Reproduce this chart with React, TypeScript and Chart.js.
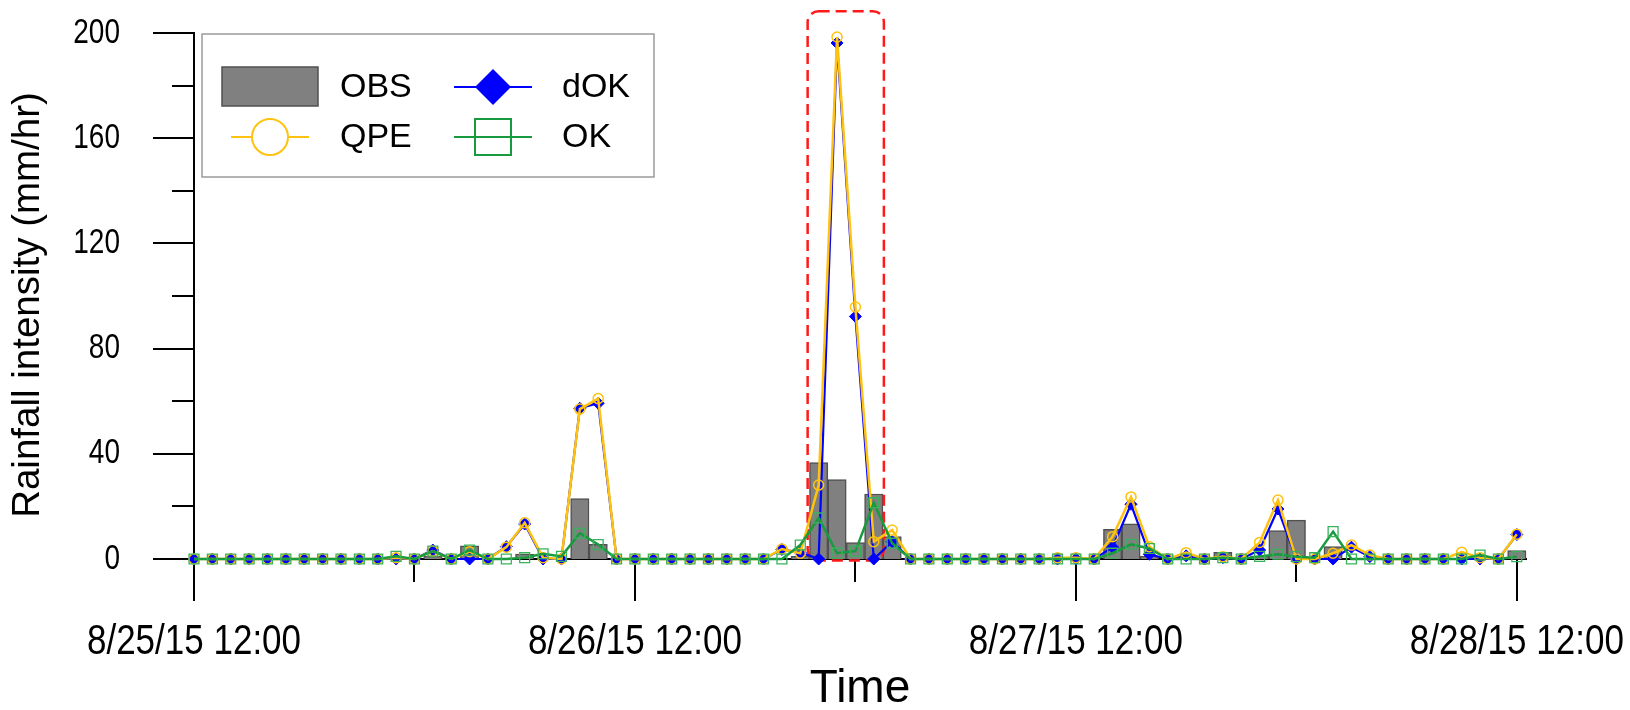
import { useEffect, useRef } from "react";
import { Chart, registerables } from "chart.js";

Chart.register(...registerables);

// Hours since 8/25/15 12:00 (hourly observations)
const HOURS = [
  0, 1, 2, 3, 4, 5, 6, 7, 8, 9, 10, 11, 12, 13, 14, 15, 16, 17, 18, 19, 20, 21, 22, 23, 24,
  25, 26, 27, 28, 29, 30, 31, 32, 33, 34, 35, 36, 37, 38, 39, 40, 41, 42, 43, 44, 45, 46, 47, 48,
  49, 50, 51, 52, 53, 54, 55, 56, 57, 58, 59, 60, 61, 62, 63, 64, 65, 66, 67, 68, 69, 70, 71, 72,
];

const OBS = [
  0, 0, 0, 0, 0, 0, 0, 0, 0, 0, 0, 0, 0, 1, 0, 5, 0, 0, 1.9, 0, 0, 23, 5.6, 0, 0,
  0, 0, 0, 0, 0, 0, 0, 0, 1, 36.7, 30.2, 6.2, 24.7, 8.5, 0, 0, 0, 0, 0, 0, 0, 0, 0, 0,
  0, 11.3, 13.4, 1, 0, 0, 0, 2.5, 0, 1.2, 10.8, 14.8, 0, 4.7, 0, 0, 0, 0, 0, 0, 0, 0, 0, 3.2,
];

const QPE = [
  0, 0, 0, 0, 0, 0, 0, 0, 0, 0, 0, 0.5, 0, 3, 0, 2.8, 0, 4.5, 13.8, 0.5, 0, 57, 61, 0, 0,
  0, 0, 0, 0, 0, 0, 0, 3.8, 2.2, 28.1, 198.5, 95.8, 6.6, 11, 0, 0, 0, 0, 0, 0, 0, 0, 0.5, 0.5,
  0, 8.5, 23.6, 4.7, 0, 2.4, 0, 0.9, 0, 6.3, 22.4, 0, 0, 2.2, 5.3, 1.5, 0, 0, 0, 0, 2.6, 0.5, 0, 9.4,
];

const DOK = [
  0, 0, 0, 0, 0, 0, 0, 0, 0, 0, 0, 0, 0, 3.4, 0, 0, 0, 4.7, 13.3, 0, 0, 57.3, 59.2, 0, 0,
  0, 0, 0, 0, 0, 0, 0, 3.6, 2.5, 0, 196.2, 92.2, 0, 6.6, 0, 0, 0, 0, 0, 0, 0, 0, 0, 0,
  0, 4.5, 20.8, 1.8, 0, 1.2, 0, 0.5, 0, 3.4, 19, 0, 0, 0, 4.5, 0.9, 0, 0, 0, 0, 0, 0, 0, 9.3,
];

const OK = [
  0, 0, 0, 0, 0, 0, 0, 0, 0, 0, 0, 1, 0, 3, 0, 3.4, 0, 0, 0.5, 2, 1, 9.8, 5.5, 0, 0,
  0, 0, 0, 0, 0, 0, 0, 0, 5.3, 15.6, 2.2, 3, 21.4, 6, 0, 0, 0, 0, 0, 0, 0, 0, 0, 0,
  0, 2.2, 5.6, 4, 0, 0, 0, 0.5, 0, 1, 1.8, 0.9, 0.5, 10.4, 0, 0, 0, 0, 0, 0, 0, 1.5, 0, 0.9,
];

const X_MAJOR_HOURS = [0, 24, 48, 72];
const X_MINOR_HOURS = [12, 36, 60];
const X_TICK_LABELS = ["8/25/15 12:00", "8/26/15 12:00", "8/27/15 12:00", "8/28/15 12:00"];
const Y_TICKS = [0, 20, 40, 60, 80, 100, 120, 140, 160, 180, 200];
const Y_LABEL_STEP = 40;

// highlighted event window (hours, mm/hr)
const HIGHLIGHT_X = [33.4, 37.55];
const HIGHLIGHT_Y = [-0.6, 208.3];

const FONT = "'Liberation Sans', Arial, sans-serif";

// draw a scale's tick labels slightly taller (the source figure's text is vertically stretched)
function patchScale(scale: any, labelStretch: number, titleShiftY: number) {
  if (scale.$patched) return;
  scale.$patched = true;
  const origLabels = scale.drawLabels;
  scale.drawLabels = function (area: any) {
    const ctx = this.ctx;
    const f = ctx.fillText;
    ctx.fillText = function (t: string, x: number, y: number, mw?: number) {
      this.save();
      this.translate(x, y);
      this.scale(1, labelStretch);
      if (mw === undefined) f.call(this, t, 0, 0);
      else f.call(this, t, 0, 0, mw);
      this.restore();
    };
    try {
      origLabels.call(this, area);
    } finally {
      ctx.fillText = f;
    }
  };
  const origTitle = scale.drawTitle;
  scale.drawTitle = function () {
    this.ctx.save();
    this.ctx.translate(0, titleShiftY);
    origTitle.call(this);
    this.ctx.restore();
  };
}

const tickPlugin = {
  id: "axisTicks",
  beforeDatasetsDraw(chart: any) {
    const { ctx, scales } = chart;
    const x = scales.x;
    const y = scales.y;
    const y0 = y.getPixelForValue(0);
    ctx.save();
    ctx.strokeStyle = "#000";
    ctx.lineWidth = 2;
    ctx.beginPath();
    X_MAJOR_HOURS.forEach((h) => {
      const px = Math.round(x.getPixelForValue(h));
      ctx.moveTo(px, y0);
      ctx.lineTo(px, y0 + 42);
    });
    X_MINOR_HOURS.forEach((h) => {
      const px = Math.round(x.getPixelForValue(h));
      ctx.moveTo(px, y0);
      ctx.lineTo(px, y0 + 23);
    });
    Y_TICKS.forEach((v) => {
      const py = Math.round(y.getPixelForValue(v));
      const len = v % Y_LABEL_STEP === 0 ? 41 : 22;
      ctx.moveTo(x.left - len, py);
      ctx.lineTo(x.left, py);
    });
    ctx.stroke();
    ctx.restore();
  },
};

const highlightPlugin = {
  id: "highlightBox",
  afterDatasetDraw(chart: any, args: any) {
    if (chart.data.datasets[args.index].label !== "OBS") return;
    const { ctx, scales } = chart;
    const l = scales.x.getPixelForValue(HIGHLIGHT_X[0]);
    const r = scales.x.getPixelForValue(HIGHLIGHT_X[1]);
    const b = scales.y.getPixelForValue(HIGHLIGHT_Y[0]);
    const t = scales.y.getPixelForValue(HIGHLIGHT_Y[1]);
    ctx.save();
    ctx.strokeStyle = "#FF1A1A";
    ctx.lineWidth = 2.5;
    ctx.setLineDash([11, 6]);
    ctx.beginPath();
    (ctx as any).roundRect(l, t, r - l, b - t, 11);
    ctx.stroke();
    ctx.restore();
  },
};

const legendPlugin = {
  id: "boxLegend",
  afterDraw(chart: any) {
    const ctx = chart.ctx;
    const ds = chart.data.datasets;
    const find = (l: string) => ds.find((d: any) => d.label === l);
    ctx.save();
    ctx.strokeStyle = "#9a9a9a";
    ctx.lineWidth = 1.5;
    ctx.fillStyle = "#fff";
    ctx.beginPath();
    ctx.rect(202, 34, 452, 143);
    ctx.fill();
    ctx.stroke();

    const rows = [87, 137];
    const symX = [270, 493];
    const textX = [340, 562];
    const items = [
      { label: "OBS", col: 0, row: 0 },
      { label: "dOK", col: 1, row: 0 },
      { label: "QPE", col: 0, row: 1 },
      { label: "OK", col: 1, row: 1 },
    ];
    items.forEach((it) => {
      const d = find(it.label);
      const cx = symX[it.col];
      const cy = rows[it.row];
      ctx.setLineDash([]);
      if (d.type === "line") {
        ctx.strokeStyle = d.borderColor;
        ctx.lineWidth = 1.8;
        ctx.beginPath();
        ctx.moveTo(cx - 39, cy);
        ctx.lineTo(cx + 39, cy);
        ctx.stroke();
        ctx.beginPath();
        if (d.pointStyle === "rectRot") {
          ctx.moveTo(cx, cy - 18);
          ctx.lineTo(cx + 18, cy);
          ctx.lineTo(cx, cy + 18);
          ctx.lineTo(cx - 18, cy);
          ctx.closePath();
          ctx.fillStyle = d.pointBackgroundColor;
          ctx.fill();
        } else if (d.pointStyle === "circle") {
          ctx.arc(cx, cy, 18, 0, Math.PI * 2);
          ctx.fillStyle = "#fff";
          ctx.fill();
          ctx.lineWidth = 2;
          ctx.stroke();
        } else {
          ctx.rect(cx - 18, cy - 18, 36, 36);
          ctx.fillStyle = "#fff";
          ctx.fill();
          ctx.lineWidth = 2;
          ctx.stroke();
          ctx.beginPath();
          ctx.lineWidth = 1.8;
          ctx.moveTo(cx - 18, cy);
          ctx.lineTo(cx + 18, cy);
          ctx.stroke();
        }
      } else {
        ctx.fillStyle = d.backgroundColor;
        ctx.strokeStyle = d.borderColor;
        ctx.lineWidth = 1.5;
        ctx.beginPath();
        ctx.rect(cx - 48, cy - 20, 96, 39);
        ctx.fill();
        ctx.stroke();
      }
      ctx.fillStyle = "#000";
      ctx.font = `34px ${FONT}`;
      ctx.textAlign = "left";
      ctx.textBaseline = "middle";
      ctx.fillText(it.label, textX[it.col], cy + 1);
    });
    ctx.restore();
  },
};

export default function App() {
  const ref = useRef<HTMLCanvasElement | null>(null);

  useEffect(() => {
    if (!ref.current) return;
    const chart = new Chart(ref.current, {
      type: "bar",
      data: {
        labels: HOURS,
        datasets: [
          {
            type: "line",
            label: "OK",
            data: OK,
            borderColor: "#179B3E",
            backgroundColor: "#179B3E",
            pointBackgroundColor: "rgba(255,255,255,0)",
            pointBorderColor: "#38B25A",
            pointStyle: "rect",
            pointRadius: 7,
            pointBorderWidth: 1.3,
            borderWidth: 2.5,
            order: 1,
            clip: false,
          } as any,
          {
            type: "line",
            label: "QPE",
            data: QPE,
            borderColor: "#FFC20E",
            backgroundColor: "#FFC20E",
            pointBackgroundColor: "rgba(255,255,255,0)",
            pointBorderColor: "#FFC20E",
            pointStyle: "circle",
            pointRadius: 5,
            pointBorderWidth: 1.5,
            borderWidth: 2.5,
            order: 2,
            clip: false,
          },
          {
            type: "line",
            label: "dOK",
            data: DOK,
            borderColor: "#0000FF",
            backgroundColor: "#0000FF",
            pointBackgroundColor: "#0000FF",
            pointBorderColor: "#0000FF",
            pointStyle: "rectRot",
            pointRadius: 6,
            pointBorderWidth: 1,
            borderWidth: 2.2,
            order: 3,
            clip: false,
          },
          {
            type: "bar",
            label: "OBS",
            data: OBS,
            backgroundColor: "#808080",
            borderColor: "#505050",
            borderWidth: 1.5,
            barPercentage: 1,
            categoryPercentage: 1,
            order: 4,
            clip: false,
          } as any,
        ],
      },
      options: {
        animation: false,
        responsive: true,
        maintainAspectRatio: false,
        layout: { padding: { left: 0, right: 104, top: 33, bottom: 0 } },
        plugins: { legend: { display: false }, tooltip: { enabled: false } },
        elements: { line: { tension: 0 } },
        scales: {
          x: {
            type: "linear",
            min: 0,
            max: 72.5,
            offset: false,
            grid: { display: false, drawTicks: false, tickLength: 0 },
            border: { display: true, color: "#000", width: 2 },
            afterBuildTicks: (scale: any) => {
              scale.ticks = X_MAJOR_HOURS.map((v) => ({ value: v }));
            },
            afterFit: (scale: any) => {
              scale.height = 151;
              scale.paddingLeft = 0;
              scale.paddingRight = 0;
              patchScale(scale, 1.2, 0);
            },
            ticks: {
              autoSkip: false,
              maxRotation: 0,
              padding: 62,
              color: "#000",
              font: { family: FONT, size: 35 },
              callback: (v: any) => {
                const i = X_MAJOR_HOURS.indexOf(Number(v));
                return i >= 0 ? X_TICK_LABELS[i] : "";
              },
            },
            title: {
              display: true,
              text: "Time",
              color: "#000",
              font: { family: FONT, size: 46 },
              padding: { top: 0, bottom: -7 },
            },
          },
          y: {
            min: 0,
            max: 200,
            grid: { display: false, drawTicks: false, tickLength: 0 },
            border: { display: true, color: "#000", width: 2 },
            afterBuildTicks: (scale: any) => {
              scale.ticks = Y_TICKS.map((v) => ({ value: v }));
            },
            afterFit: (scale: any) => {
              scale.width = 194;
              scale.paddingTop = 0;
              scale.paddingBottom = 0;
              patchScale(scale, 1.25, 9);
            },
            ticks: {
              padding: 74,
              color: "#000",
              font: { family: FONT, size: 28 },
              callback: (v: any) => (Number(v) % Y_LABEL_STEP === 0 ? String(v) : ""),
            },
            title: {
              display: true,
              text: "Rainfall intensity (mm/hr)",
              color: "#000",
              font: { family: FONT, size: 38.5 },
              padding: { top: 5, bottom: 0 },
            },
          },
        },
      },
      plugins: [tickPlugin, highlightPlugin, legendPlugin],
    });
    return () => chart.destroy();
  }, []);

  return (
    <div style={{ position: "fixed", left: 0, top: 0, width: 1630, height: 710, background: "#fff" }}>
      <canvas ref={ref} />
    </div>
  );
}
